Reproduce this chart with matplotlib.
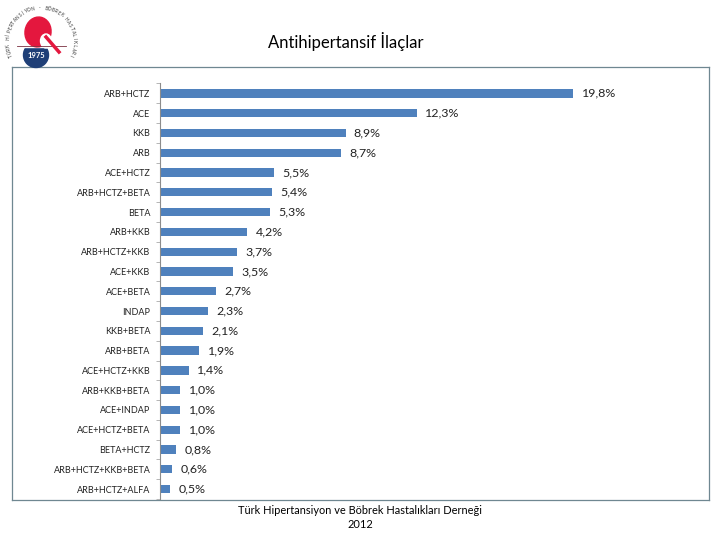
import numpy as np
import matplotlib
matplotlib.use('Agg')
from matplotlib import pyplot as plt
from matplotlib.patches import Ellipse, Rectangle

drugs = ['ARB+HCTZ', 'ACE', 'KKB', 'ARB', 'ACE+HCTZ', 'ARB+HCTZ+BETA', 'BETA',
         'ARB+KKB', 'ARB+HCTZ+KKB', 'ACE+KKB', 'ACE+BETA', 'INDAP', 'KKB+BETA',
         'ARB+BETA', 'ACE+HCTZ+KKB', 'ARB+KKB+BETA', 'ACE+INDAP', 'ACE+HCTZ+BETA',
         'BETA+HCTZ', 'ARB+HCTZ+KKB+BETA', 'ARB+HCTZ+ALFA']
shares = [19.8, 12.3, 8.9, 8.7, 5.5, 5.4, 5.3, 4.2, 3.7, 3.5, 2.7, 2.3, 2.1, 1.9,
          1.4, 1.0, 1.0, 1.0, 0.8, 0.6, 0.5]
ring_text = 'TÜRK HİPERTANSİYON - BÖBREK HASTALIKLARI'

W, H = 720, 540
plt.rcParams['font.family'] = ['Lato', 'DejaVu Sans']
fig = plt.figure(figsize=(7.2, 5.4), dpi=100)

def box(x0, y0, x1, y1):
    # pixel box, measured from the top left corner
    return [x0 / W, 1 - y1 / H, (x1 - x0) / W, (y1 - y0) / H]

# outer frame of the chart
frame = fig.add_axes(box(11.5, 67, 708.5, 500))
frame.set_xticks([])
frame.set_yticks([])
for s in frame.spines.values():
    s.set_color('#6f8791')
    s.set_linewidth(0.9)

ax = fig.add_axes(box(159.5, 83.5, 708, 499))
ax.patch.set_alpha(0)
y = np.arange(len(drugs))
ax.barh(y, shares, height=0.42, color='#4f81bd')
ax.set_ylim(len(drugs) - 0.5, -0.5)
ax.set_xlim(0, 548.5 / 20.9)
ax.set_yticks(y)
ax.set_yticklabels(drugs, fontsize=6.5, color='#222222')
ax.set_yticks(np.arange(len(drugs) + 1) - 0.5, minor=True)
ax.tick_params(axis='y', which='major', length=0, pad=6.5)
ax.tick_params(axis='y', which='minor', length=3, color='#b5b5b5', width=0.7)
ax.set_xticks([])
for name in ['top', 'right', 'bottom']:
    ax.spines[name].set_visible(False)
ax.spines['left'].set_color('#8c8c8c')

for i, v in enumerate(shares):
    ax.annotate(('%.1f%%' % v).replace('.', ','), (v, i), xytext=(6, 0),
                textcoords='offset points', va='center', fontsize=8.9, color='#222222')

fig.text(346 / W, 1 - 42 / H, 'Antihipertansif İlaçlar', ha='center', va='center',
         fontsize=12, color='black')
fig.text(360 / W, 1 - 510 / H, 'Türk Hipertansiyon ve Böbrek Hastalıkları Derneği',
         ha='center', va='center', fontsize=7.9, color='black')
fig.text(360 / W, 1 - 524 / H, '2012', ha='center', va='center', fontsize=7.9, color='black')

# logo in the top left corner
logo = fig.add_axes(box(0, 0, 80, 70))
logo.set_xlim(0, 80)
logo.set_ylim(70, 0)
logo.axis('off')
logo.add_patch(Ellipse((36, 55), 25, 25, color='#1f3f77'))
logo.add_patch(Rectangle((20, 30), 36, 17, color='white'))
logo.add_patch(Ellipse((38, 32), 26, 30, angle=10, color='#e4173e'))
logo.add_patch(Ellipse((46, 41), 11, 14, color='white'))
logo.plot([17, 66], [46, 46], color='#7a3040', lw=0.6)
logo.plot([46, 59], [37, 52], color='#e4173e', lw=2.5)
logo.text(36, 55, '1975', color='white', fontsize=5.5, ha='center', va='center', fontweight='bold')
angles = np.linspace(205, -25, len(ring_text))
for ch, a in zip(ring_text, angles):
    t = np.deg2rad(a)
    logo.text(41 + 33 * np.cos(t), 41 - 33 * np.sin(t), ch, fontsize=3.4, color='#333333',
              rotation=a - 90, ha='center', va='center')

fig.savefig('out.png', dpi=100)
